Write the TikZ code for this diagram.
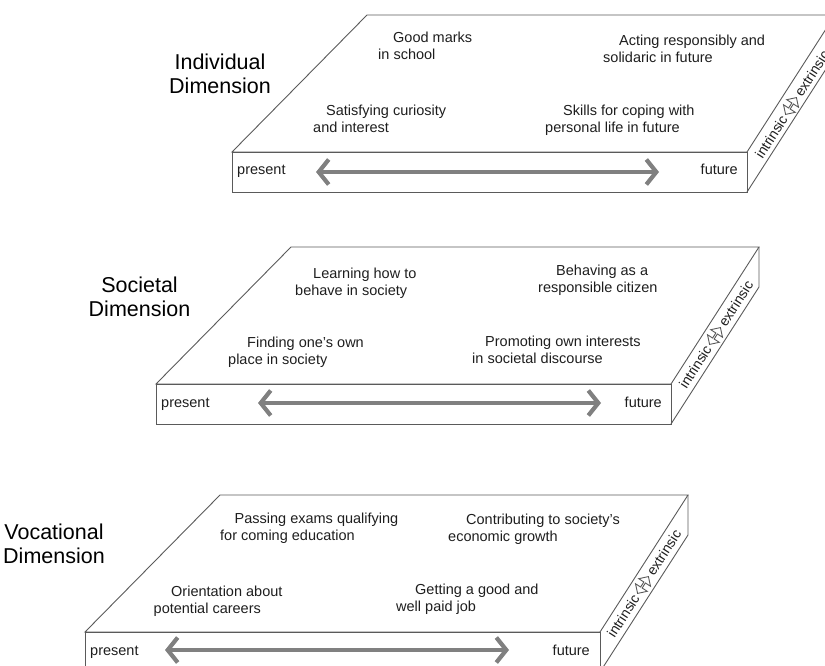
\documentclass[tikz,border=0pt]{standalone}
\usepackage{fontspec}
\setmainfont{Liberation Sans}
\usetikzlibrary{arrows.meta,shapes.arrows}
\definecolor{edgegray}{HTML}{5A5A5A}
\definecolor{arrowgray}{HTML}{808080}
\definecolor{textgray}{HTML}{1E1E1E}

\begin{document}
\begin{tikzpicture}[x=1pt,y=-1pt]
\tikzstyle{slab}=[draw=edgegray, line width=0.9pt]
\tikzstyle{lbl}=[anchor=north west, inner sep=0pt, align=left, text=textgray, font=\fontsize{14.5}{17}\selectfont]
\tikzstyle{tlbl}=[inner sep=0pt, text=textgray, font=\fontsize{14.5}{17}\selectfont]
\tikzstyle{dim}=[anchor=north, align=center, inner sep=0pt, font=\fontsize{21.5}{24}\selectfont]
\tikzstyle{timearrow}=[draw=arrowgray, line width=4.2pt, {Straight Barb[length=10pt,width=25pt]}-{Straight Barb[length=10pt,width=25pt]}]
\tikzstyle{side}=[rotate=57.3, inner sep=2pt, text=textgray, font=\fontsize{14}{16}\selectfont]
\tikzstyle{dbl}=[double arrow, draw=edgegray, fill=white, line width=0.9pt, rotate=57.3, minimum height=20pt, minimum width=14pt, double arrow head extend=3pt, inner sep=0pt]
\clip (0,0) rectangle (825,666);

% slabs
\foreach \x/\y in {232/152, 156/384, 85/632} {
  \draw[slab] (\x,\y) -- ++(135,-137) -- ++(468,0) -- ++(-88,137) -- cycle;
  \draw[slab] (\x,\y) rectangle ++(515,40);
  \draw[slab] (\x+515,\y+40) -- ++(88,-137) -- ++(0,-40);
}

% individual
\node[dim] (T1) at (220, 54) {Individual\\Dimension};
\node[lbl] (A1) at (378, 31.4) {\hspace*{15pt}Good marks\\in school};
\node[lbl] (B1) at (603, 34.4) {\hspace*{16pt}Acting responsibly and\\solidaric in future};
\node[lbl] (C1) at (313, 104.4) {\hspace*{13pt}Satisfying curiosity\\and interest};
\node[lbl] (D1) at (545, 104.4) {\hspace*{18pt}Skills for coping with\\personal life in future};
\node[tlbl, anchor=base west] (P1) at (237, 175) {present};
\node[tlbl, anchor=base east] (F1) at (738, 175) {future};
\coordinate (L1) at (316, 172);
\coordinate (R1) at (659, 172);
\draw[timearrow] (L1) -- (R1);
\node[dbl] (E1) at (791, 106) {};
\node[side, anchor=east] (I1) at (E1.west) {intrinsic};
\node[side, anchor=west] (X1) at (E1.east) {extrinsic};

% societal
\node[dim] (T2) at (139.5, 277) {Societal\\Dimension};
\node[lbl] (A2) at (295, 268) {\hspace*{18pt}Learning how to\\behave in society};
\node[lbl] (B2) at (538, 264.4) {\hspace*{18pt}Behaving as a\\responsible citizen};
\node[lbl] (C2) at (228, 337) {\hspace*{19pt}Finding one’s own\\place in society};
\node[lbl] (D2) at (472, 336) {\hspace*{13pt}Promoting own interests\\in societal discourse};
\node[tlbl, anchor=base west] (P2) at (161, 407) {present};
\node[tlbl, anchor=base east] (F2) at (662, 407) {future};
\coordinate (L2) at (258, 403);
\coordinate (R2) at (601, 403);
\draw[timearrow] (L2) -- (R2);
\node[dbl] (E2) at (715, 336) {};
\node[side, anchor=east] (I2) at (E2.west) {intrinsic};
\node[side, anchor=west] (X2) at (E2.east) {extrinsic};

% vocational
\node[dim] (T3) at (54, 524) {Vocational\\Dimension};
\node[lbl] (A3) at (220, 512.4) {\hspace*{14.5pt}Passing exams qualifying\\for coming education};
\node[lbl] (B3) at (448, 514) {\hspace*{18pt}Contributing to society’s\\economic growth};
\node[lbl] (C3) at (153.5, 585.4) {\hspace*{17.5pt}Orientation about\\potential careers};
\node[lbl] (D3) at (396, 583.4) {\hspace*{19pt}Getting a good and\\well paid job};
\node[tlbl, anchor=base west] (P3) at (90, 655) {present};
\node[tlbl, anchor=base east] (F3) at (590, 655) {future};
\coordinate (L3) at (165, 650);
\coordinate (R3) at (509, 650);
\draw[timearrow] (L3) -- (R3);
\node[dbl] (E3) at (643, 585) {};
\node[side, anchor=east] (I3) at (E3.west) {intrinsic};
\node[side, anchor=west] (X3) at (E3.east) {extrinsic};
\end{tikzpicture}
\end{document}
